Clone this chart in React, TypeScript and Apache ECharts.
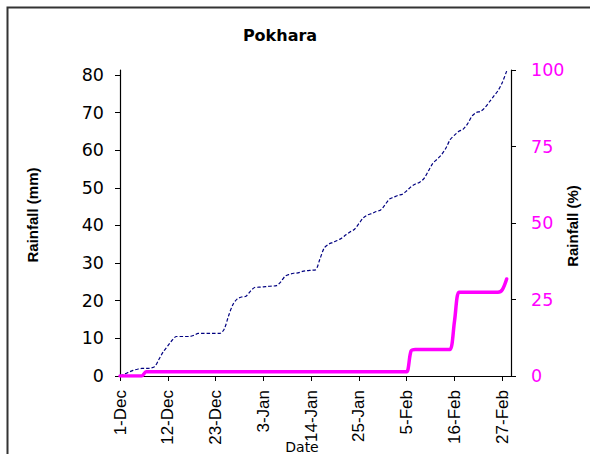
import React, { useEffect, useRef } from "react";
import * as echarts from "echarts";

// Day labels: 1-Dec ... 1-Mar (built from month names and lengths)
const monthNames = ["Dec", "Jan", "Feb", "Mar"];
const monthLengths = [31, 31, 28, 1];
const categories: string[] = [];
monthNames.forEach((m, i) => {
  for (let d = 1; d <= monthLengths[i]; d++) categories.push(`${d}-${m}`);
});
const labelEvery = 11;

// Cumulative rainfall (mm), daily from 1-Dec to 28-Feb
const cumulativeRainfall = [
  0, 0.5, 1.0, 1.5, 1.8, 2.0, 2.0, 2.1, 2.5, 4.5,
  6.5, 8.0, 9.5, 10.5, 10.5, 10.5, 10.5, 10.8, 11.3, 11.3,
  11.3, 11.3, 11.3, 11.3, 12.5, 16.0, 19.0, 20.5, 21.0, 21.2,
  22.5, 23.5, 23.6, 23.7, 23.8, 23.9, 24.0, 25.0, 26.5, 27.0,
  27.3, 27.4, 27.8, 28.0, 28.1, 28.2, 31.0, 34.0, 35.0, 35.5,
  36.0, 36.6, 37.5, 38.3, 39.0, 40.5, 42.0, 42.8, 43.2, 43.7,
  44.1, 45.5, 47.0, 47.5, 48.0, 48.3, 49.2, 50.3, 51.0, 51.5,
  52.5, 54.5, 56.5, 57.6, 58.8, 60.5, 62.8, 64.0, 65.0, 65.6,
  67.0, 69.0, 70.0, 70.3, 71.3, 72.8, 74.3, 75.8, 78.0, 81.0,
];

// Rainfall (%) series, daily from 1-Dec to 28-Feb
const rainfallPercent = [
  0, 0, 0, 0, 0, 0, 1.4, 1.4, 1.4, 1.4,
  1.4, 1.4, 1.4, 1.4, 1.4, 1.4, 1.4, 1.4, 1.4, 1.4,
  1.4, 1.4, 1.4, 1.4, 1.4, 1.4, 1.4, 1.4, 1.4, 1.4,
  1.4, 1.4, 1.4, 1.4, 1.4, 1.4, 1.4, 1.4, 1.4, 1.4,
  1.4, 1.4, 1.4, 1.4, 1.4, 1.4, 1.4, 1.4, 1.4, 1.4,
  1.4, 1.4, 1.4, 1.4, 1.4, 1.4, 1.4, 1.4, 1.4, 1.4,
  1.4, 1.4, 1.4, 1.4, 1.4, 1.4, 1.4, 8.2, 8.7, 8.7,
  8.7, 8.7, 8.7, 8.7, 8.7, 8.7, 8.7, 18, 27.4, 27.4,
  27.4, 27.4, 27.4, 27.4, 27.4, 27.4, 27.4, 27.4, 28.2, 31.7,
];

const leftTicks = [0, 10, 20, 30, 40, 50, 60, 70, 80];
const leftMax = 81.3;
const rightTicks = [0, 25, 50, 75, 100];

const numFont = "DejaVu Sans";
const rotFont = "Liberation Sans";

export default function App() {
  const ref = useRef<HTMLDivElement>(null);
  useEffect(() => {
    if (!ref.current) return;
    const chart = echarts.init(ref.current, null, { renderer: "svg" });
    const every = (i: number) => i % labelEvery === 0;
    chart.setOption({
      animation: false,
      backgroundColor: "#ffffff",
      grid: { left: 120, right: 79, top: 70, bottom: 78 },
      xAxis: {
        type: "category",
        data: categories,
        boundaryGap: false,
        axisLine: { lineStyle: { color: "#000", width: 1.2 } },
        axisTick: { interval: every, length: 5, lineStyle: { color: "#000" } },
        axisLabel: {
          interval: every,
          rotate: 90,
          margin: 14,
          fontSize: 17,
          fontFamily: rotFont,
          color: "#000",
        },
        splitLine: { show: false },
      },
      yAxis: [
        {
          type: "value",
          min: 0,
          max: leftMax,
          interval: 10,
          position: "left",
          axisLine: { show: true, lineStyle: { color: "#000", width: 1.2 } },
          axisTick: { show: true, length: 5, customValues: leftTicks, lineStyle: { color: "#000" } },
          axisLabel: {
            customValues: leftTicks,
            margin: 16,
            fontSize: 17.5,
            fontFamily: numFont,
            color: "#000",
          },
          splitLine: { show: false },
        },
        {
          type: "value",
          min: 0,
          max: 100,
          interval: 25,
          position: "right",
          axisLine: { show: true, lineStyle: { color: "#000", width: 1.2 } },
          axisTick: { show: true, length: 5, customValues: rightTicks, lineStyle: { color: "#000" } },
          axisLabel: {
            customValues: rightTicks,
            margin: 20,
            fontSize: 17.5,
            fontFamily: numFont,
            color: "#FF00FF",
          },
          splitLine: { show: false },
        },
      ],
      series: [
        {
          name: "Rainfall (mm)",
          type: "line",
          yAxisIndex: 0,
          data: cumulativeRainfall,
          smooth: 0.3,
          showSymbol: false,
          lineStyle: { color: "#000080", width: 1.2, type: [3.5, 2] },
        },
        {
          name: "Rainfall (%)",
          type: "line",
          yAxisIndex: 1,
          data: rainfallPercent,
          smooth: 0.3,
          showSymbol: false,
          lineStyle: { color: "#FF00FF", width: 3.5, cap: "round", join: "round" },
        },
      ],
      graphic: [
        {
          type: "rect",
          shape: { x: 7.5, y: 7.5, width: 700, height: 600 },
          style: { fill: "none", stroke: "#333", lineWidth: 2 },
          silent: true,
        },
        {
          type: "text",
          x: 280,
          y: 35,
          style: {
            text: "Pokhara",
            fontSize: 16,
            fontWeight: "bold",
            fontFamily: numFont,
            fill: "#000",
            align: "center",
            verticalAlign: "middle",
          },
        },
        {
          type: "text",
          x: 32,
          y: 215,
          rotation: Math.PI / 2,
          style: {
            text: "Rainfall (mm)",
            fontSize: 15,
            fontWeight: "bold",
            fontFamily: rotFont,
            fill: "#000",
            align: "center",
            verticalAlign: "middle",
          },
        },
        {
          type: "text",
          x: 572,
          y: 226,
          rotation: Math.PI / 2,
          style: {
            text: "Rainfall (%)",
            fontSize: 15,
            fontWeight: "bold",
            fontFamily: rotFont,
            fill: "#000",
            align: "center",
            verticalAlign: "middle",
          },
        },
        {
          type: "text",
          x: 302,
          y: 447,
          style: {
            text: "Date",
            fontSize: 14,
            fontFamily: numFont,
            fill: "#000",
            align: "center",
            verticalAlign: "middle",
          },
        },
      ],
    });
    return () => chart.dispose();
  }, []);
  return (
    <div
      ref={ref}
      style={{ position: "fixed", left: 0, top: 0, width: 590, height: 454 }}
    />
  );
}
